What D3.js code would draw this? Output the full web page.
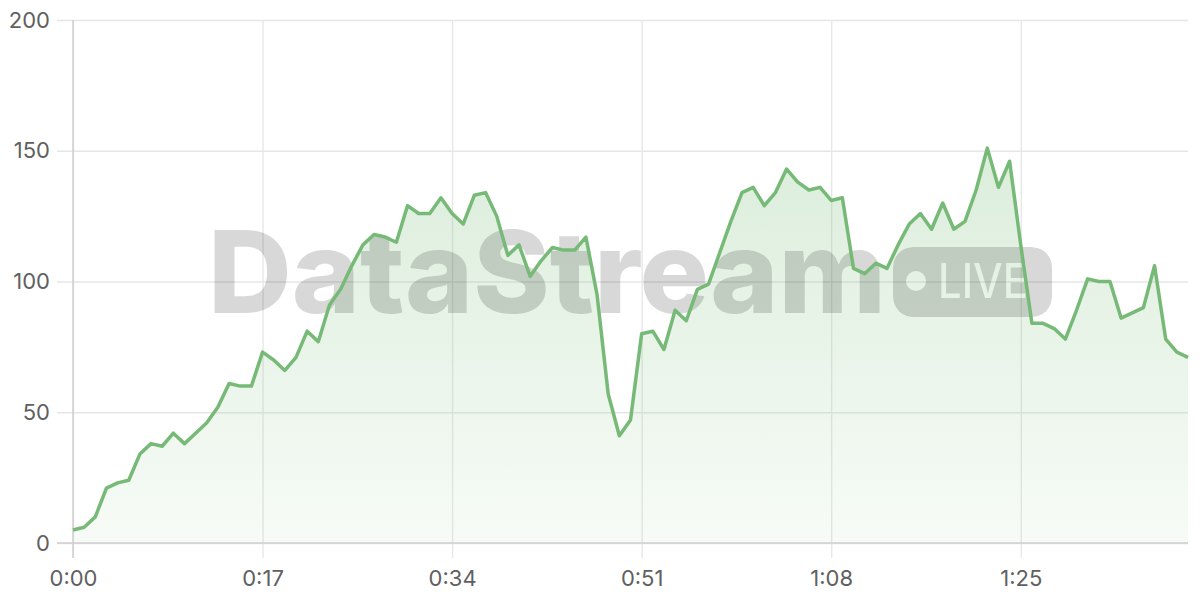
<!DOCTYPE html>
<html><head><meta charset="utf-8">
<script src="https://cdn.jsdelivr.net/npm/d3@7"></script>
<style>body{margin:0;background:#fff} svg{display:block}</style>
</head><body><svg id="c" width="1200" height="600"></svg>
<script>
// one value per second, 0:00 .. 1:40
const values = [5,6,10,21,23,24,34,38,37,42,38,42,46,52,61,60,60,73,70,66,
  71,81,77,91,97,106,114,118,117,115,129,126,126,132,126,122,133,134,125,110,
  114,102,108,113,112,112,117,95,57,41,47,80,81,74,89,85,97,99,111,123,
  134,136,129,134,143,138,135,136,131,132,105,103,107,105,114,122,126,120,130,120,
  123,135,151,136,146,114,84,84,82,78,89,101,100,100,86,88,90,106,78,73,71];
const xTicks = [0,17,34,51,68,85];
const yTicks = [0,50,100,150,200];
const watermarkText = "DataStream";
const badgeText = "LIVE";

const svg = d3.select("#c");
const x = d3.scaleLinear().domain([0, values.length - 1]).range([73, 1188]);
const y = d3.scaleLinear().domain([0, 200]).range([543, 20]);
const fmt = s => Math.floor(s/60) + ":" + String(s%60).padStart(2,"0");
const font = "Inter, 'Liberation Sans', Arial, sans-serif";

const defs = svg.append("defs");
const grad = defs.append("linearGradient").attr("id","g")
  .attr("gradientUnits","userSpaceOnUse").attr("x1",0).attr("x2",0).attr("y1", y(155)).attr("y2", y(0));
grad.append("stop").attr("offset",0).attr("stop-color","rgb(120,188,120)").attr("stop-opacity",0.27);
grad.append("stop").attr("offset",1).attr("stop-color","rgb(120,188,120)").attr("stop-opacity",0.06);

// grid
const yAxis = d3.axisLeft(y).tickValues(yTicks).tickSize(-(1188-57)).tickPadding(7);
const gy = svg.append("g").attr("transform","translate(57,0)").call(yAxis);
gy.select(".domain").remove();
gy.selectAll(".tick line").attr("stroke","#e6e6e6").attr("stroke-width",1.3);
gy.selectAll(".tick text").attr("font-family",font).attr("font-size",22).attr("fill","#606060");

const xAxis = d3.axisBottom(x).tickValues(xTicks).tickFormat(fmt).tickSize(-(558-20)).tickPadding(12);
const gx = svg.append("g").attr("transform","translate(0,558)").call(xAxis);
gx.select(".domain").remove();
gx.selectAll(".tick line").attr("stroke","#e6e6e6").attr("stroke-width",1.3);
gx.selectAll(".tick text").attr("font-family",font).attr("font-size",22).attr("fill","#606060");

// area
const area = d3.area().x((d,i)=>x(i)).y0(y(0)).y1(d=>y(d));
svg.append("path").datum(values).attr("d",area).attr("fill","url(#g)");

// watermark
const mask = defs.append("mask").attr("id","m");
mask.append("rect").attr("x",893).attr("y",247).attr("width",159).attr("height",70).attr("rx",20).attr("fill","#fff");
mask.append("circle").attr("cx",916).attr("cy",281).attr("r",10).attr("fill","#000");
mask.append("text").attr("x",938).attr("y",298).attr("font-family",font)
  .attr("font-size",48).attr("font-weight",500).attr("textLength",90).attr("lengthAdjust","spacingAndGlyphs")
  .attr("fill","#000").text(badgeText);
const wm = svg.append("g").attr("opacity",0.15);
wm.append("text").attr("x",208).attr("y",313).attr("font-family",font)
  .attr("font-size",114).attr("font-weight",800).attr("textLength",678).attr("lengthAdjust","spacingAndGlyphs")
  .attr("fill","#000").text(watermarkText);
wm.append("rect").attr("x",893).attr("y",247).attr("width",159).attr("height",70).attr("rx",20)
  .attr("fill","#000").attr("mask","url(#m)");

// axes lines
svg.append("line").attr("x1",x(0)).attr("x2",x(0)).attr("y1",20).attr("y2",558).attr("stroke","#cfcfcf").attr("stroke-width",1.5);
svg.append("line").attr("x1",57).attr("x2",1188).attr("y1",y(0)).attr("y2",y(0)).attr("stroke","#cfcfcf").attr("stroke-width",1.5);

// line
const line = d3.line().x((d,i)=>x(i)).y(d=>y(d));
svg.append("path").datum(values).attr("d",line).attr("fill","none")
  .attr("stroke","#77b977").attr("stroke-width",3.5).attr("stroke-linejoin","round");
</script></body></html>
